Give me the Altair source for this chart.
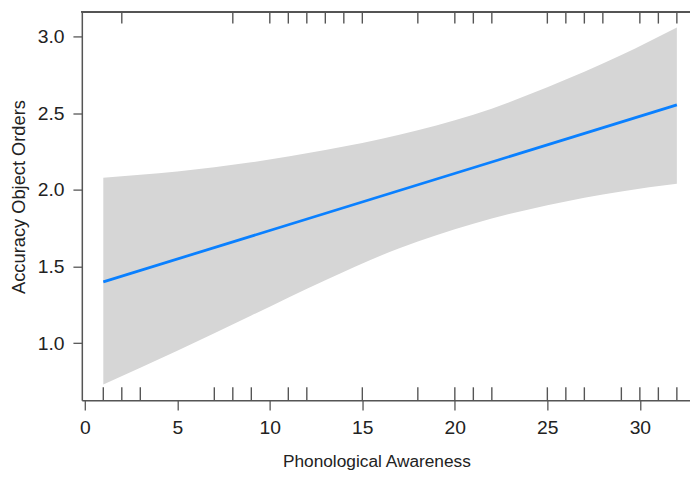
import altair as alt
import pandas as pd

# Confidence band
band_x = [1, 5, 9, 13, 17, 21, 25, 29, 32]
band_upper = [2.08, 2.12, 2.18, 2.26, 2.36, 2.49, 2.67, 2.88, 3.06]
band_lower = [0.73, 0.95, 1.18, 1.41, 1.62, 1.78, 1.90, 1.99, 2.04]

# Fitted line
fit_x = [1, 32]
fit_y = [1.40, 2.555]

# Rug marks
rug_bottom = [1, 2, 3, 7, 8, 9, 11, 12, 15, 18, 20, 21, 22, 25, 26, 27, 29, 30, 31, 32]
rug_top = [2, 8, 10, 11, 12, 13, 14, 15, 18, 20, 21, 22, 25, 26, 27, 28, 30, 31, 32]

x_ticks = [0, 5, 10, 15, 20, 25, 30]
y_ticks = [1.0, 1.5, 2.0, 2.5, 3.0]

W = 615.3
H = 393
FRAME = "#555555"
FONT = "Liberation Sans"

band_df = pd.DataFrame({"x": band_x, "lo": band_lower, "hi": band_upper})
fit_df = pd.DataFrame({"x": fit_x, "y": fit_y})
rb_df = pd.DataFrame({"x": rug_bottom})
rt_df = pd.DataFrame({"x": rug_top})

xscale = alt.Scale(domain=[-0.16, 32.71], nice=False, zero=False)
yscale = alt.Scale(domain=[0.628, 3.163], nice=False, zero=False)

xaxis = alt.Axis(
    values=x_ticks, title="Phonological Awareness", grid=False,
    tickSize=10, tickColor=FRAME, tickWidth=1.3,
    domainColor=FRAME, domainWidth=1.5,
    labelFontSize=19.5, labelColor="#222222", labelFont=FONT, labelPadding=9,
    titleFontSize=17.5, titleFont=FONT, titleFontWeight="normal", titleColor="#222222",
    titleX=298, titleY=62, titleBaseline="middle", titleAnchor="start", titleAlign="center",
)
yaxis = alt.Axis(
    values=y_ticks, format=".1f", title="Accuracy Object Orders", grid=False,
    tickSize=9, tickColor=FRAME, tickWidth=1.3,
    domainColor=FRAME, domainWidth=1.5,
    labelFontSize=19.5, labelColor="#222222", labelFont=FONT, labelPadding=9,
    titleFontSize=18.5, titleFont=FONT, titleFontWeight="normal", titleColor="#222222",
    titleX=-64, titleY=187, titleBaseline="middle", titleAlign="center", titleAngle=-90,
)

band = alt.Chart(band_df).mark_area(color="#d6d6d6", interpolate="monotone").encode(
    x=alt.X("x:Q", scale=xscale, axis=xaxis),
    y=alt.Y("hi:Q", scale=yscale, axis=yaxis),
    y2="lo:Q",
)

line = alt.Chart(fit_df).mark_line(color="#0a80ff", strokeWidth=2.8).encode(
    x=alt.X("x:Q", scale=xscale),
    y=alt.Y("y:Q", scale=yscale),
)

rug_b = alt.Chart(rb_df).mark_rule(color=FRAME, strokeWidth=1.4).encode(
    x=alt.X("x:Q", scale=xscale),
    y=alt.value(H - 13),
    y2=alt.value(H),
)
rug_t = alt.Chart(rt_df).mark_rule(color=FRAME, strokeWidth=1.4).encode(
    x=alt.X("x:Q", scale=xscale),
    y=alt.value(0),
    y2=alt.value(12),
)
top_frame = alt.Chart(rt_df).mark_rule(color=FRAME, strokeWidth=1.5).encode(
    x=alt.value(0), x2=alt.value(W), y=alt.value(0)
)

chart = alt.layer(band, line, rug_b, rug_t, top_frame).properties(
    width=W, height=H,
    autosize=alt.AutoSizeParams(type="none"),
    padding={"left": 74.7, "top": 1, "right": 0, "bottom": 75},
).configure_view(stroke=None).configure(background="white")

chart.save("out.html", embed_options={"renderer": "svg", "actions": False})
